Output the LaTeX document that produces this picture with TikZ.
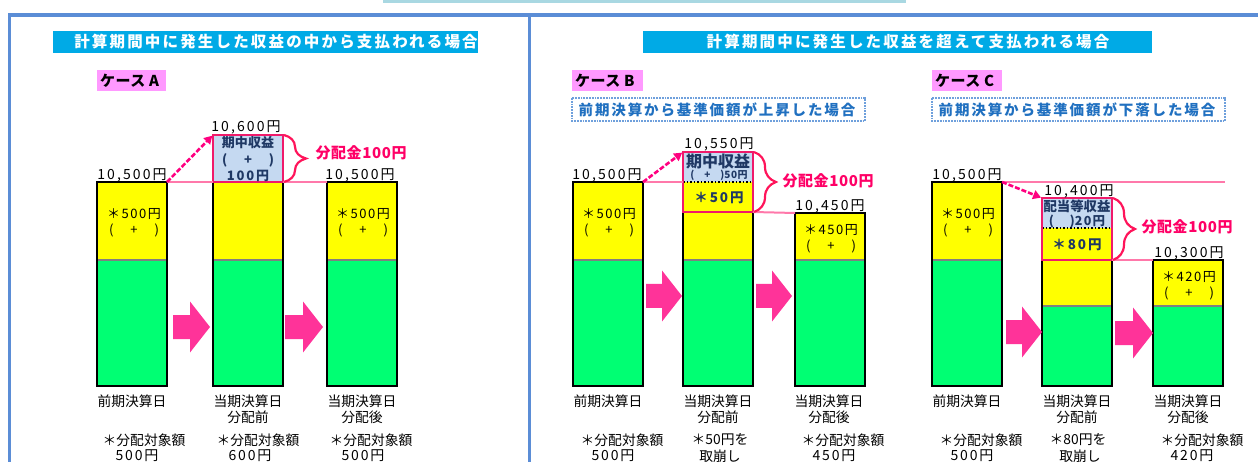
\documentclass[tikz,border=0pt]{standalone}
\usepackage{fontspec}
\setmainfont{Noto Sans CJK JP}
\usetikzlibrary{decorations.pathreplacing,arrows.meta,calc}
\definecolor{panelB}{RGB}{91,141,214}
\definecolor{topBar}{RGB}{169,216,226}
\definecolor{titleC}{RGB}{0,170,230}
\definecolor{caseP}{RGB}{255,153,255}
\definecolor{subT}{RGB}{32,112,192}
\definecolor{subBd}{RGB}{111,160,220}
\definecolor{navy}{RGB}{31,56,100}
\definecolor{boxB}{RGB}{197,217,241}
\definecolor{pinkB}{RGB}{240,26,106}
\definecolor{braceC}{RGB}{255,20,90}
\definecolor{distT}{RGB}{255,0,102}
\definecolor{lineP}{RGB}{255,120,170}
\definecolor{bArrowC}{RGB}{255,51,153}
\definecolor{dArrowC}{RGB}{255,0,128}
\definecolor{barY}{RGB}{255,255,0}
\definecolor{barG}{RGB}{0,255,115}
\definecolor{gLine}{RGB}{128,128,128}
\newcommand{\fs}[1]{\fontsize{#1}{#1}\selectfont}
\newcommand{\pp}[1]{\makebox[#1]{(\hfill+\hfill)}}
\newcommand{\blk}[3]{\fill[bArrowC] (#1,{#3-12}) -- ({#2-20},{#3-12}) -- ({#2-20},{#3-25.5}) -- (#2,#3) -- ({#2-20},{#3+25.5}) -- ({#2-20},{#3+12}) -- (#1,{#3+12}) -- cycle;}
\tikzset{
  frame/.style={draw=black, line width=2pt, anchor=north west, minimum width=70, inner sep=0, outer sep=0},
  pbox/.style={draw=pinkB, line width=2pt, anchor=north west, minimum width=70, inner sep=0, outer sep=0},
  gline/.style={draw=gLine, line width=2pt},
  pline/.style={draw=lineP, line width=2pt},
  darrow/.style={draw=dArrowC, line width=2.6pt, dash pattern=on 5pt off 2pt, -{Triangle[length=8pt,width=9pt]}, shorten >=1pt},
  brc/.style={draw=braceC, line width=2.2pt, decorate, decoration={brace, amplitude=22pt, raise=1pt}},
  dlabel/.style={inner sep=0, text=distT, font={\fs{15}\bfseries\addfontfeature{LetterSpace=4}}},
  num/.style={inner sep=0, anchor=base, font={\fs{14}\addfontfeature{LetterSpace=15}}},
  ytxt/.style={inner sep=0, font={\fs{13}\addfontfeature{LetterSpace=12}}},
  bt/.style={inner sep=0, text=navy, font={\fs{13}\bfseries\addfontfeature{LetterSpace=1}}},
  blab/.style={inner sep=0, font={\fs{13.8}}},
  bnum/.style={inner sep=0, font={\fs{14}\addfontfeature{LetterSpace=13}}},
  ttl/.style={inner sep=0, text=white, font={\fs{15.5}\bfseries\addfontfeature{LetterSpace=14}}},
  cas/.style={inner sep=0, anchor=west, font={\fs{15}\bfseries\addfontfeature{LetterSpace=3}}},
  sub/.style={inner sep=0, text=subT, font={\fs{14.5}\bfseries\addfontfeature{LetterSpace=13}}},
}
\begin{document}
\begin{tikzpicture}[x=1pt,y=-1pt]
\useasboundingbox (0,0) rectangle (1258,462);
% panels
\fill[topBar] (383,0) rectangle (906,3);
\draw[panelB, line width=3.5pt] (9.5,462) -- (9.5,15) -- (1258,15);
\draw[panelB, line width=3pt] (529,15) -- (529,462);
% titles
\fill[titleC] (53,31) rectangle (478,53);
\node[ttl] (t1) at (276,42) {計算期間中に発生した収益の中から支払われる場合};
\fill[titleC] (643,31) rectangle (1152,53);
\node[ttl] (t2) at (908,42) {計算期間中に発生した収益を超えて支払われる場合};
% case labels
\fill[caseP] (97,70) rectangle (166,91);
\node[cas] (ca) at (100,81) {ケース A};
\fill[caseP] (572,70) rectangle (643,91);
\node[cas] (cb) at (575,81) {ケース B};
\fill[caseP] (932,70) rectangle (1002,91);
\node[cas] (cc) at (935,81) {ケース C};
% subtitles
\draw[subBd, line width=1.8pt, densely dotted] (572,98) rectangle (865,121);
\node[sub] (sb) at (717,110) {前期決算から基準価額が上昇した場合};
\draw[subBd, line width=1.8pt, densely dotted] (932,98) rectangle (1225,121);
\node[sub] (sc) at (1077,110) {前期決算から基準価額が下落した場合};

% ================= CASE A =================
\fill[barY] (97,182) rectangle (167,260); \fill[barG] (97,260) rectangle (167,386);
\draw[gline] (97,260) -- (167,260);
\node[frame, minimum height=204] (A1) at (97,182) {};
\fill[barY] (213,182) rectangle (283,260); \fill[barG] (213,260) rectangle (283,386);
\draw[gline] (213,260) -- (283,260);
\node[frame, minimum height=204] (A2) at (213,182) {};
\fill[barY] (327,182) rectangle (397,260); \fill[barG] (327,260) rectangle (397,386);
\draw[gline] (327,260) -- (397,260);
\node[frame, minimum height=204] (A3) at (327,182) {};
\node[pbox, fill=boxB, minimum height=47] (A2b) at (213,135) {};
\draw[pline] (A1.north east) -- (A2.north west);
\draw[pline] (A2.north east) -- (A3.north west);
\draw[darrow] (A1.north east) -- (A2b.north west);
\draw[brc] (A2b.north east) -- (A2b.south east);
\node[dlabel] (Ad) at (361,153) {分配金100円};
\node[bt] at (248,143) {期中収益};
\node[bt] at (248,160) {\pp{52pt}};
\node[bt, font={\fs{13}\bfseries\addfontfeature{LetterSpace=14}}] at (248,176) {100円};
\node[num] at (246,132) {10,600円};
\node[num] at (132,180) {10,500円};
\node[num] at (360,180) {10,500円};
\node[ytxt] at (134,214) {＊500円};
\node[ytxt] at (134,230) {\pp{50pt}};
\node[ytxt] at (363,214) {＊500円};
\node[ytxt] at (363,230) {\pp{50pt}};
\blk{173}{210}{327}
\blk{285}{323}{327}
\node[blab] at (132,401) {前期決算日};
\node[blab] at (248,401) {当期決算日};
\node[blab] at (248,417) {分配前};
\node[blab] at (362,401) {当期決算日};
\node[blab] at (362,417) {分配後};
\node[blab] at (144,440) {＊分配対象額};
\node[bnum] at (137,456) {500円};
\node[blab] at (258,440) {＊分配対象額};
\node[bnum] at (250,456) {600円};
\node[blab] at (371,440) {＊分配対象額};
\node[bnum] at (363,456) {500円};

% ================= CASE B =================
\fill[barY] (573,182) rectangle (643,260); \fill[barG] (573,260) rectangle (643,386);
\draw[gline] (573,260) -- (643,260);
\node[frame, minimum height=204] (B1) at (573,182) {};
\fill[barY] (683,212) rectangle (753,260); \fill[barG] (683,260) rectangle (753,386);
\draw[gline] (683,260) -- (753,260);
\node[frame, minimum height=174] (B2) at (683,212) {};
\fill[barY] (795,213) rectangle (865,260); \fill[barG] (795,260) rectangle (865,386);
\draw[gline] (795,260) -- (865,260);
\node[frame, minimum height=173] (B3) at (795,213) {};
\fill[boxB] (683,152) rectangle (753,182); \fill[barY] (683,182) rectangle (753,212);
\draw[black, line width=1.5pt, dotted] (683,182) -- (753,182);
\node[pbox, minimum height=60] (B2b) at (683,152) {};
\draw[pline] (B1.north east) -- (B2b.west |- B1.north);
\draw[pline] (B2b.south east) -- (B3.north west);
\draw[darrow] (B1.north east) -- (B2b.north west);
\draw[brc] (B2b.north east) -- (B2b.south east);
\node[dlabel] (Bd) at (828,181) {分配金100円};
\node[bt, font={\fs{16}\bfseries}] at (718,161) {期中収益};
\node[bt, font={\fs{10}\bfseries\addfontfeature{LetterSpace=5}}] at (719,175) {\pp{34pt}50円};
\node[bt, font={\fs{13.5}\bfseries\addfontfeature{LetterSpace=14}}] at (719,198) {＊50円};
\node[num] at (607,180) {10,500円};
\node[num] at (719,149) {10,550円};
\node[num] at (830,211) {10,450円};
\node[ytxt] at (609,214) {＊500円};
\node[ytxt] at (609,230) {\pp{50pt}};
\node[ytxt] at (831,230) {＊450円};
\node[ytxt] at (831,246) {\pp{50pt}};
\blk{646}{682}{296}
\blk{756}{792}{296}
\node[blab] at (608,401) {前期決算日};
\node[blab] at (718,401) {当期決算日};
\node[blab] at (718,417) {分配前};
\node[blab] at (829,401) {当期決算日};
\node[blab] at (829,417) {分配後};
\node[blab] at (622,440) {＊分配対象額};
\node[bnum] at (613,456) {500円};
\node[blab] at (720,440) {＊50円を};
\node[blab] at (720,456) {取崩し};
\node[blab] at (843,440) {＊分配対象額};
\node[bnum] at (834,456) {450円};

% ================= CASE C =================
\fill[barY] (932,182) rectangle (1002,260); \fill[barG] (932,260) rectangle (1002,386);
\draw[gline] (932,260) -- (1002,260);
\node[frame, minimum height=204] (C1) at (932,182) {};
\fill[barY] (1042,260) rectangle (1112,306); \fill[barG] (1042,306) rectangle (1112,386);
\draw[gline] (1042,306) -- (1112,306);
\node[frame, minimum height=126] (C2) at (1042,260) {};
\fill[barY] (1153,260) rectangle (1223,306); \fill[barG] (1153,306) rectangle (1223,386);
\draw[gline] (1153,306) -- (1223,306);
\node[frame, minimum height=126] (C3) at (1153,260) {};
\fill[boxB] (1042,198) rectangle (1112,228); \fill[barY] (1042,228) rectangle (1112,260);
\draw[black, line width=1.5pt, dotted] (1042,228) -- (1112,228);
\node[pbox, minimum height=62] (C2b) at (1042,198) {};
\coordinate (Cend) at (1225,182);
\draw[pline] (C1.north east) -- (Cend);
\draw[pline] (C2b.south east) -- (C3.north west);
\draw[darrow] (C1.north east) -- (C2b.north west);
\draw[brc] (C2b.north east) -- (C2b.south east);
\node[dlabel] (Cd) at (1187,227) {分配金100円};
\node[bt, font={\fs{13.4}\bfseries}] at (1077,206) {配当等収益};
\node[bt, font={\fs{12.5}\bfseries\addfontfeature{LetterSpace=10}}] at (1077,222) {\makebox[26pt]{(\hfill)}20円};
\node[bt, font={\fs{13.5}\bfseries\addfontfeature{LetterSpace=14}}] at (1077,245) {＊80円};
\node[num] at (967,180) {10,500円};
\node[num] at (1079,196) {10,400円};
\node[num] at (1189,258) {10,300円};
\node[ytxt] at (968,214) {＊500円};
\node[ytxt] at (968,230) {\pp{50pt}};
\node[ytxt] at (1189,277) {＊420円};
\node[ytxt] at (1189,293) {\pp{50pt}};
\blk{1006}{1042}{332}
\blk{1115}{1153}{333}
\node[blab] at (967,401) {前期決算日};
\node[blab] at (1077,401) {当期決算日};
\node[blab] at (1077,417) {分配前};
\node[blab] at (1188,401) {当期決算日};
\node[blab] at (1188,417) {分配後};
\node[blab] at (981,440) {＊分配対象額};
\node[bnum] at (972,456) {500円};
\node[blab] at (1078,440) {＊80円を};
\node[blab] at (1080,456) {取崩し};
\node[blab] at (1202,440) {＊分配対象額};
\node[bnum] at (1192,456) {420円};
\end{tikzpicture}
\end{document}
